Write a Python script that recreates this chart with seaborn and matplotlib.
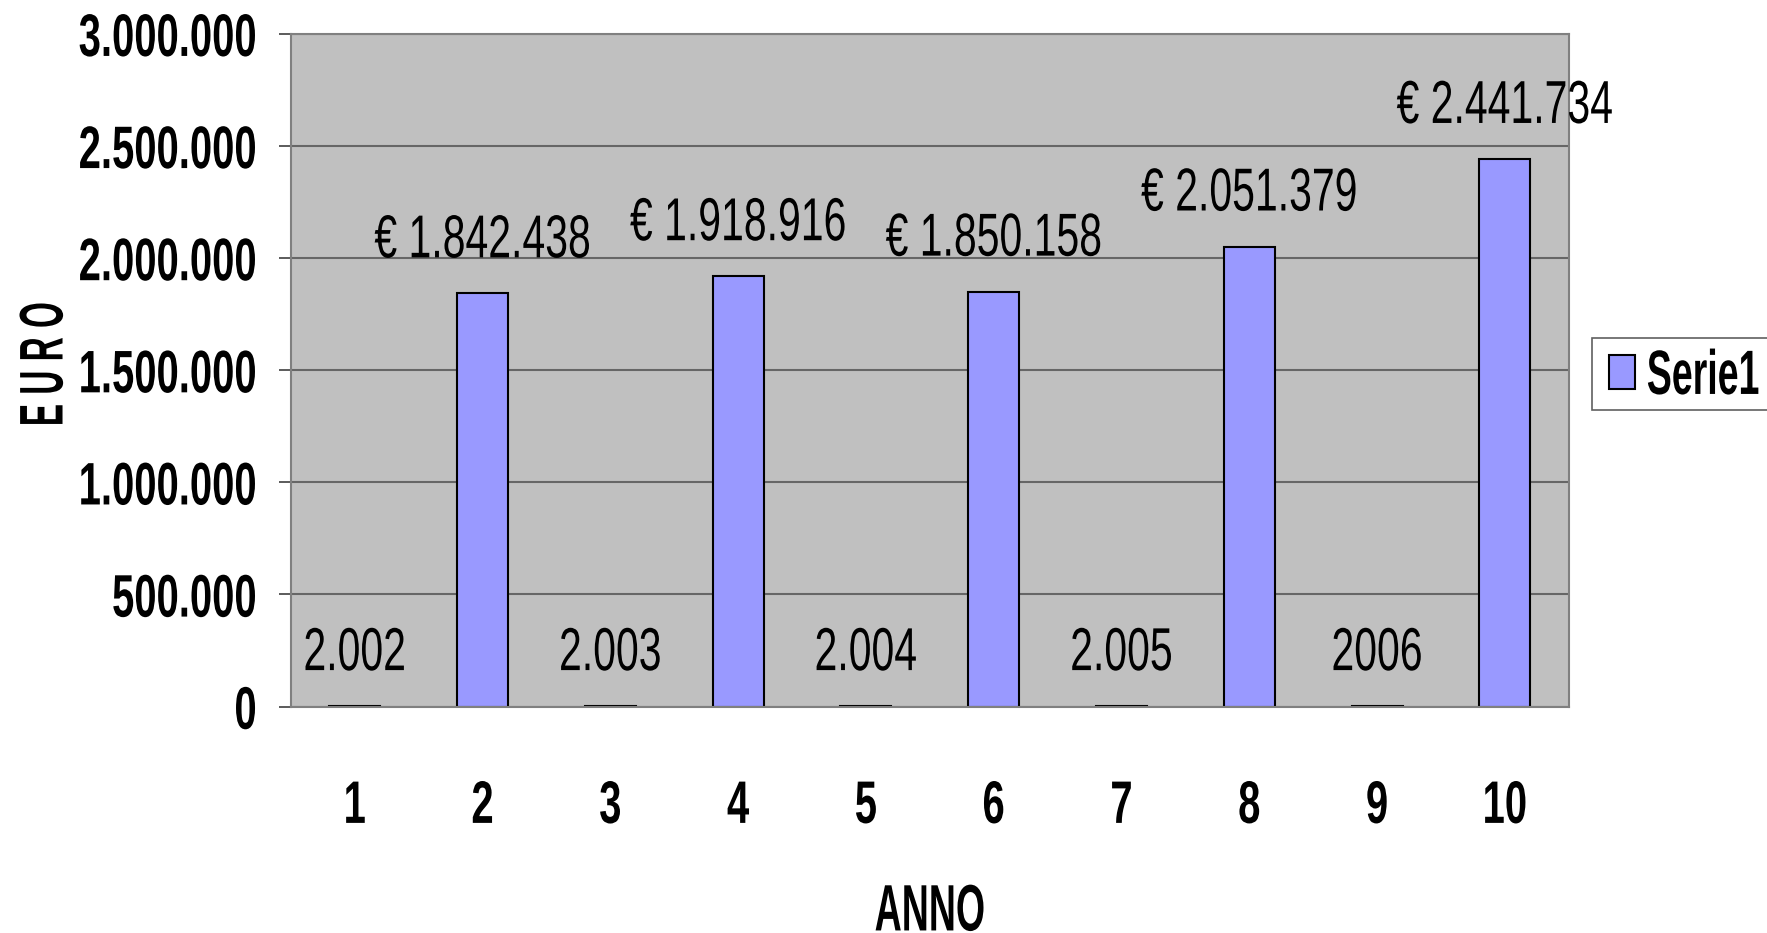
import matplotlib
matplotlib.use('Agg')
import matplotlib.pyplot as plt
import seaborn as sns
import pandas as pd
from matplotlib.patheffects import AbstractPathEffect
from matplotlib.transforms import Affine2D

# chart data
categorie = ['1', '2', '3', '4', '5', '6', '7', '8', '9', '10']
valori = [2002, 1842438, 2003, 1918916, 2004, 1850158, 2005, 2051379, 2006, 2441734]
etichette = ['2.002', '€ 1.842.438', '2.003', '€ 1.918.916', '2.004',
             '€ 1.850.158', '2.005', '€ 2.051.379', '2006', '€ 2.441.734']
y_ticks = [0, 500000, 1000000, 1500000, 2000000, 2500000, 3000000]
y_tick_labels = ['0', '500.000', '1.000.000', '1.500.000', '2.000.000', '2.500.000', '3.000.000']


class Stretch(AbstractPathEffect):
    '''Stretch glyphs vertically around the middle of the digits (fake condensed font).'''

    def __init__(self, s):
        super().__init__()
        self.s = s

    def draw_path(self, renderer, gc, tpath, affine, rgbFace=None):
        c = 35.8  # half digit height in text-path units (em = 100)
        t = Affine2D().translate(0, -c).scale(1, self.s).translate(0, c) + affine
        renderer.draw_path(gc, tpath, t, rgbFace)


sns.set_style('white')
plt.rcParams['font.family'] = ['Liberation Sans', 'DejaVu Sans']
plt.rcParams['text.color'] = 'black'
plt.rcParams['axes.labelcolor'] = 'black'
plt.rcParams['xtick.labelcolor'] = 'black'
plt.rcParams['ytick.labelcolor'] = 'black'

df = pd.DataFrame({'anno': categorie, 'euro': valori})

fig = plt.figure(figsize=(17.67, 9.33), dpi=100)
ax = fig.add_axes([0.1646, 0.2427, 0.7232, 0.7211])
ax.set_facecolor('#C0C0C0')

sns.barplot(data=df, x='anno', y='euro', color='#9999FF', saturation=1,
            width=0.4, edgecolor='black', linewidth=1.5, label='Serie1', ax=ax)

# data labels above each bar
for i, (v, t) in enumerate(zip(valori, etichette)):
    ax.annotate(t, xy=(i, v), xytext=(0, 41.8), textcoords='offset points',
                ha='center', va='center_baseline', fontsize=29.5, color='black',
                path_effects=[Stretch(1.48)])

ax.set_ylim(0, 3000000)
ax.set_xlim(-0.5, 9.5)
ax.set_yticks(y_ticks)
ax.set_yticklabels(y_tick_labels, fontsize=28.8, fontweight='bold')
ax.yaxis.grid(True, color='#666666', linewidth=1.5)
ax.set_axisbelow(True)

# category ticks sit between the bars, Excel style
ax.set_xticks(range(len(categorie)))
ax.set_xticklabels(categorie, fontsize=28.8, fontweight='bold')
ax.set_xticks([i - 0.5 for i in range(len(categorie) + 1)], minor=True)
ax.tick_params(axis='x', which='major', length=0, pad=57, labelcolor='black')
ax.tick_params(axis='x', which='minor', length=14.4, width=1.2, color='#404040', direction='out')
ax.tick_params(axis='y', which='major', length=8.6, width=1.2, color='#404040', direction='out',
               pad=16, left=True, labelcolor='black')

for lab in ax.get_yticklabels() + ax.get_xticklabels():
    lab.set_path_effects([Stretch(1.5)])

for side in ['top', 'right', 'left', 'bottom']:
    ax.spines[side].set_color('#808080')
    ax.spines[side].set_linewidth(1.5)

ax.set_xlabel('ANNO', fontsize=27, fontweight='bold', va='center_baseline',
              color='black', path_effects=[Stretch(1.75)])
ax.xaxis.set_label_coords(0.5, -0.297)
ax.set_ylabel('E U R O', fontsize=24, fontweight='bold', va='center_baseline',
              color='black', path_effects=[Stretch(1.85)])
ax.yaxis.set_label_coords(-0.196, 0.509)

leg = ax.legend(loc='center left', bbox_to_anchor=(0.901, 0.599),
                bbox_transform=fig.transFigure, fontsize=27, frameon=True,
                fancybox=False, framealpha=1, edgecolor='#606060',
                handlelength=0.69, handleheight=1.0, handletextpad=0.32,
                borderpad=0.45, borderaxespad=0)
leg.get_frame().set_linewidth(1.2)
for txt in leg.get_texts():
    txt.set_fontweight('bold')
    txt.set_color('black')
    txt.set_path_effects([Stretch(1.67)])

plt.savefig('out.png', dpi=100)
